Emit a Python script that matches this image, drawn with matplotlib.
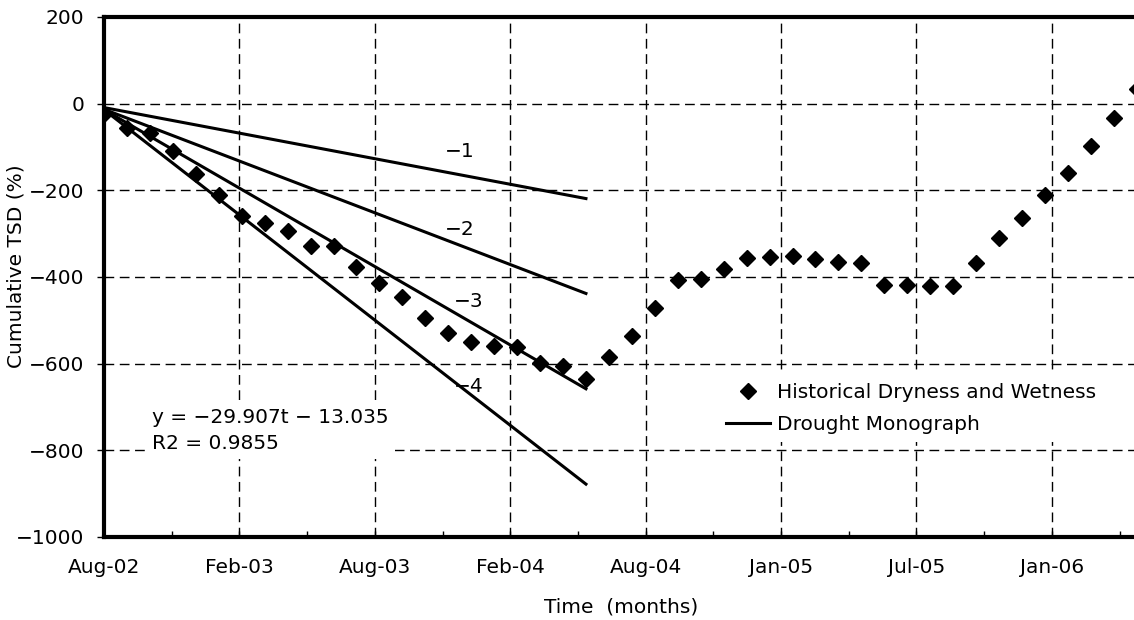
import matplotlib
matplotlib.use("Agg")
import matplotlib.pyplot as plt
import numpy as np

plt.rcParams["font.family"] = ["DejaVu Sans"]
plt.rcParams["font.size"] = 14.5

# monthly cumulative TSD, month 0 = Aug-02
tsd = [-24, -56, -68, -109, -162, -211, -259, -275, -293, -328,
       -328, -377, -414, -446, -494, -529, -550, -559, -562, -598,
       -605, -635, -585, -536, -471, -407, -404, -381, -356, -354,
       -351, -358, -365, -367, -418, -418, -421, -421, -367, -310,
       -264, -211, -160, -98, -33, 34]
months = np.arange(len(tsd))

# drought monograph lines (start, end) over months 0..21
mono_names = ["\u22121", "\u22122", "\u22123", "\u22124"]
mono_t = [0, 21]
mono_start = [-9, -13, -14, -14]
mono_end = [-219, -438, -658, -878]
mono_label_t = [15.5, 15.5, 15.9, 15.9]
mono_label_y = [-111, -291, -457, -653]

xtick_labels = ["Aug-02", "Feb-03", "Aug-03", "Feb-04", "Aug-04",
                "Jan-05", "Jul-05", "Jan-06"]
tick_step = 5.9

fig = plt.figure(figsize=(11.34, 6.2), dpi=100)
ax = fig.add_axes([104 / 1134, 83 / 620, 46 * 22.95 / 1134, 520 / 620])

pts, = ax.plot(months, tsd, linestyle="none", marker="D", markersize=8.3,
               color="black", label="Historical Dryness and Wetness", zorder=4)

mono_lines = []
for i in range(len(mono_names)):
    ln, = ax.plot(mono_t, [mono_start[i], mono_end[i]], color="black",
                  linewidth=2.2, zorder=3, label="Drought Monograph")
    mono_lines.append(ln)
    ax.text(mono_label_t[i], mono_label_y[i], mono_names[i],
            ha="center", va="center")

ax.set_xlim(0, 46)
ax.set_ylim(-1000, 200)
ax.set_yticks(np.arange(-1000, 201, 200))
ax.set_xticks(np.arange(len(xtick_labels)) * tick_step)
ax.set_xticklabels(xtick_labels)
ax.set_xticks((np.arange(len(xtick_labels)) + 0.5) * tick_step, minor=True)

ax.tick_params(axis="x", which="both", direction="in", length=4, width=1, pad=15)
ax.tick_params(axis="y", direction="out", length=5, width=1, pad=9)

ax.grid(True, which="major", color="black", linestyle=(0, (7, 4)), linewidth=1.0)
ax.set_axisbelow(True)

for side in ["left", "bottom", "top", "right"]:
    ax.spines[side].set_linewidth(3)

ax.text(2.1, -703, "y = \u221229.907t \u2212 13.035\nR2 = 0.9855",
        ha="left", va="top", linespacing=1.45, zorder=5,
        bbox=dict(facecolor="white", edgecolor="none", boxstyle="square,pad=0.3"))

leg = ax.legend(handles=[pts, mono_lines[0]], loc="upper left",
                bbox_to_anchor=(0.5816, 0.3115), borderaxespad=0,
                borderpad=0.4, handlelength=2.2, handletextpad=0.35,
                labelspacing=0.62, frameon=True, fancybox=False,
                edgecolor="none", facecolor="white", framealpha=1)

ax.set_ylabel("Cumulative TSD (%)")
ax.yaxis.set_label_coords(-0.074, 0.52)
ax.set_xlabel("Time  (months)")
ax.xaxis.set_label_coords(0.4897, -0.117)

fig.savefig("out.png", dpi=100)
